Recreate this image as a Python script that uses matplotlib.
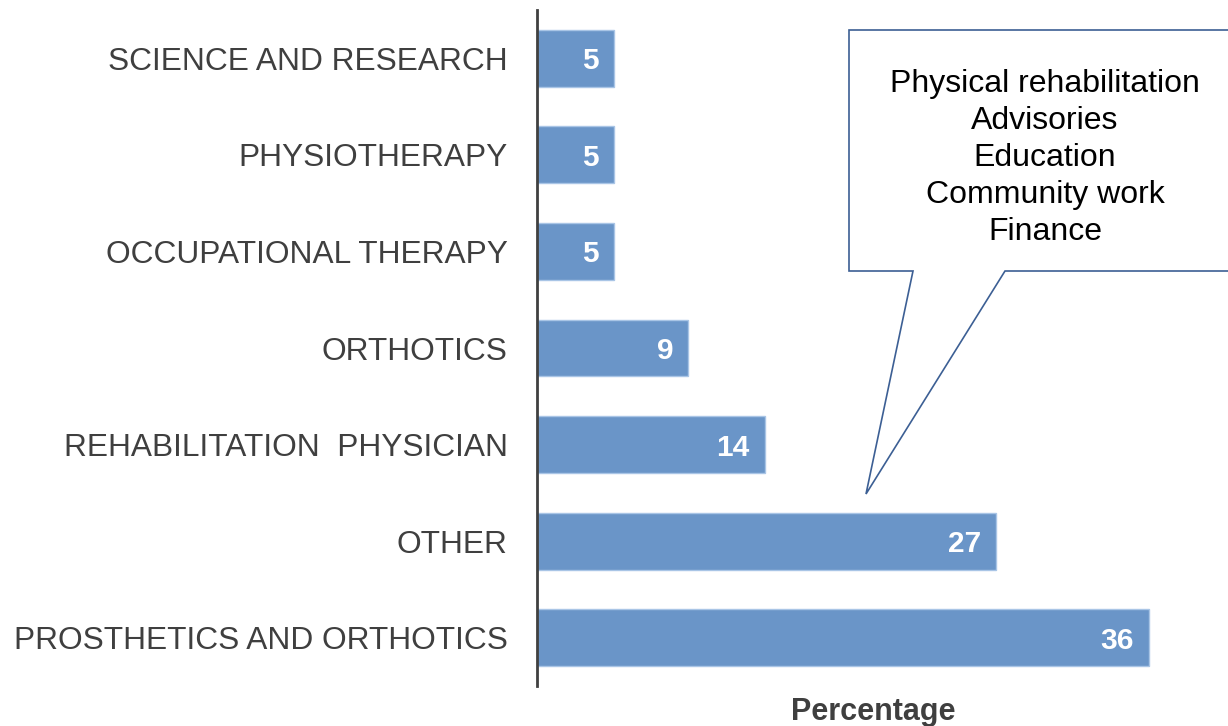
import matplotlib.pyplot as plt
from matplotlib.patches import Polygon

plt.rcParams["font.family"] = ["Liberation Sans", "DejaVu Sans"]

# bottom to top
categories = [
    "PROSTHETICS AND ORTHOTICS",
    "OTHER",
    "REHABILITATION  PHYSICIAN",
    "ORTHOTICS",
    "OCCUPATIONAL THERAPY",
    "PHYSIOTHERAPY",
    "SCIENCE AND RESEARCH",
]
values = [36, 27, 13.4, 8.9, 4.5, 4.5, 4.5]
value_labels = ["36", "27", "14", "9", "5", "5", "5"]
callout_lines = ["Physical rehabilitation", "Advisories", "Education", "Community work", "Finance"]

W, H = 1228, 726
BAR_COLOR = "#6a95c8"


def px(x, y):
    # pixel position (top-left origin) -> figure fraction
    return (x / W, 1 - y / H)


def main():
    fig = plt.figure(figsize=(W / 100, H / 100), dpi=100)
    l, b = px(537, 686)
    r, t = px(1209, 10)
    ax = fig.add_axes([l, b, r - l, t - b])

    ypos = range(len(categories))
    ax.barh(ypos, values, height=0.59, color=BAR_COLOR, edgecolor="#a9c5e6", linewidth=1)
    for y, v, lab in zip(ypos, values, value_labels):
        ax.annotate(lab, (v, y), xytext=(-11, 0), textcoords="offset points",
                    ha="right", va="center_baseline", color="white",
                    fontsize=21.5, fontweight="bold")

    ax.set_xlim(0, 39.5)
    ax.set_ylim(-0.5, len(categories) - 0.5)
    ax.set_yticks(list(ypos))
    ax.set_yticklabels(categories, fontsize=22.8, color="#3f3f3f")
    ax.tick_params(axis="y", length=0, pad=21)
    ax.set_xticks([])
    for side in ["top", "right", "bottom"]:
        ax.spines[side].set_visible(False)
    ax.spines["left"].set_color("#404040")
    ax.spines["left"].set_linewidth(2)
    ax.set_xlabel("Percentage", fontsize=22, fontweight="bold", color="#3f3f3f", labelpad=8)

    # speech-bubble callout
    pts = [px(849, 30), px(1240, 30), px(1240, 271), px(1005, 271),
           px(866, 494), px(913, 271), px(849, 271)]
    bubble = Polygon(pts, closed=True, facecolor="white", edgecolor="#3c5f94",
                     linewidth=1.2, transform=fig.transFigure, clip_on=False)
    fig.patches.append(bubble)
    tx, ty = px(1045, 158)
    fig.text(tx, ty, "\n".join(callout_lines), ha="center", va="center",
             multialignment="center", fontsize=23, color="black", linespacing=1.3)

    fig.savefig("out.png", dpi=100)


if __name__ == "__main__":
    main()
